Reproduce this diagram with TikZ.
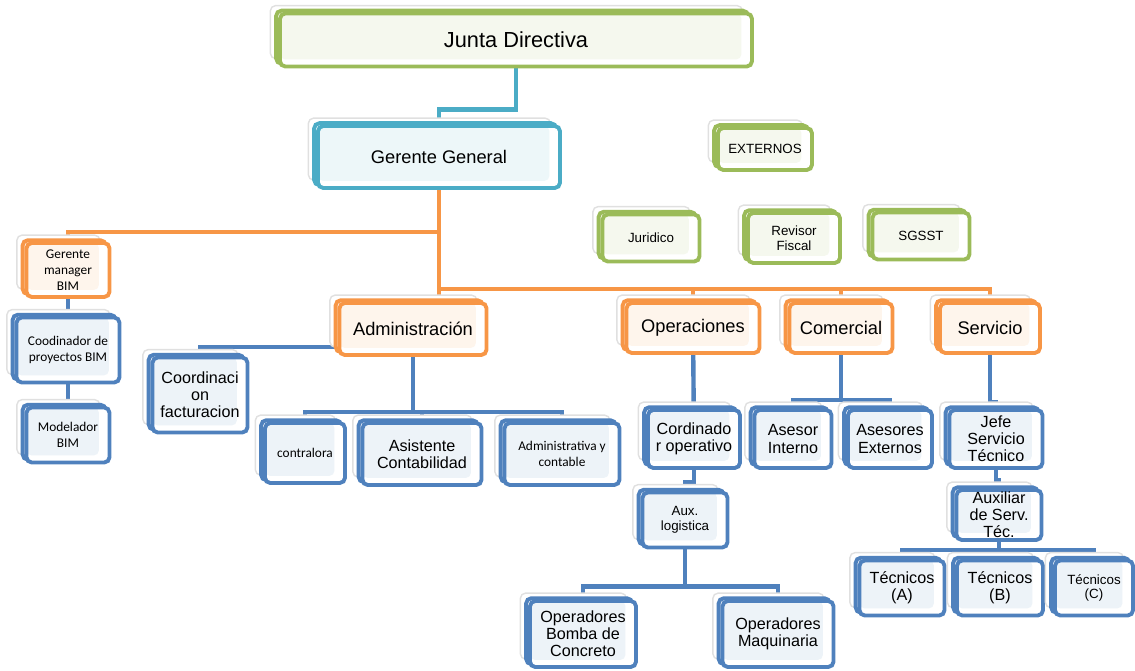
\documentclass[tikz,border=0pt]{standalone}
\usepackage{fontspec}
\setmainfont{Liberation Sans}
\newfontfamily\calibrifont{Carlito}
\usetikzlibrary{backgrounds}
\definecolor{verde}{HTML}{9BBB59}
\definecolor{turq}{HTML}{4BACC6}
\definecolor{naranja}{HTML}{F79646}
\definecolor{azul}{HTML}{4F81BD}
\tikzset{
  caja/.style={draw=#1, fill=white, line width=2.2pt, rounded corners=3pt, align=center, inner sep=1pt,
    preaction={draw=black!12, fill=white, line width=0.8pt, transform canvas={shift={(-5.5pt,4.5pt)}}},
    preaction={draw=#1, line width=2.2pt, transform canvas={shift={(-2.2pt,1.6pt)}}},
    path picture={\fill[#1!10] ([shift={(0pt,4pt)}]path picture bounding box.south west) rectangle ([shift={(-6pt,0pt)}]path picture bounding box.north east);}},
  sz/.style 2 args={minimum width=#1*0.02cm, minimum height=#2*0.02cm},
  linea/.style={draw=#1, line width=2.5pt},
  f1/.style={font=\fontsize{12.4}{14}\selectfont},
  f2/.style={font=\fontsize{10.4}{12}\selectfont},
  f3/.style={font=\fontsize{9.2}{9.8}\selectfont},
  f4/.style={font=\fontsize{7.6}{8.4}\selectfont},
  fc/.style={font=\calibrifont\fontsize{7.6}{9}\selectfont}
}
\begin{document}
\begin{tikzpicture}[x=0.02cm,y=-0.02cm]
\useasboundingbox (0,0) rectangle (1135,671);
\node[caja=verde, sz={472}{53}, f1] (jd) at (516,40) {Junta Directiva};
\node[caja=turq, sz={242}{62}, f2] (gg) at (439,157) {Gerente General};
\node[caja=verde, sz={94}{42}, f4] (ext) at (765,149) {EXTERNOS};
\node[caja=verde, sz={97}{47}, f4] (jur) at (651,238) {Juridico};
\node[caja=verde, sz={92}{50}, f4] (rev) at (794,238) {Revisor\\Fiscal};
\node[caja=verde, sz={97}{47}, f4] (sgs) at (921,236) {SGSST};
\node[caja=naranja, sz={83}{54}, fc] (gmb) at (68,270) {Gerente\\manager\\BIM};
\node[caja=azul, sz={103}{65}, fc] (cpb) at (68,350) {Coodinador de\\proyectos BIM};
\node[caja=azul, sz={83}{55}, fc] (mbim) at (68,435) {Modelador\\BIM};
\node[caja=naranja, sz={147}{52}, f2] (adm) at (413,329) {Administración};
\node[caja=azul, sz={95}{75}, f3] (cfac) at (200,395) {Coordinaci\\on\\facturacion};
\node[caja=azul, sz={80}{60}, fc] (con) at (305,453) {contralora};
\node[caja=azul, sz={119}{62}, f3] (asi) at (422,454) {Asistente\\Contabilidad};
\node[caja=azul, sz={115}{62}, fc] (adc) at (562,454) {Administrativa y\\contable};
\node[caja=naranja, sz={133}{50}, f2] (ope) at (693,328) {Operaciones};
\node[caja=naranja, sz={103}{50}, f2] (com) at (841,328) {Comercial};
\node[caja=naranja, sz={100}{50}, f2] (ser) at (990,328) {Servicio};
\node[caja=azul, sz={92}{58}, f3] (cop) at (694,439) {Cordinado\\r operativo};
\node[caja=azul, sz={77}{58}, f3] (ain) at (793,439) {Asesor\\Interno};
\node[caja=azul, sz={84}{58}, f3] (aex) at (890,439) {Asesores\\Externos};
\node[caja=azul, sz={93}{58}, f3] (jst) at (996,439) {Jefe\\Servicio\\Técnico};
\node[caja=azul, sz={85}{55}, f4] (aux) at (685,520) {Aux.\\logistica};
\node[caja=azul, sz={85}{50}, f3] (ast) at (999,515) {Auxiliar\\de Serv.\\Téc.};
\node[caja=azul, sz={106}{66}, f3] (obc) at (583,634) {Operadores\\Bomba de\\Concreto};
\node[caja=azul, sz={111}{66}, f3] (omq) at (778,634) {Operadores\\Maquinaria};
\node[caja=azul, sz={85}{55}, f3] (ta) at (902,588) {Técnicos\\(A)};
\node[caja=azul, sz={86}{55}, f3] (tb) at (1000,588) {Técnicos\\(B)};
\node[caja=azul, sz={78}{55}, f4] (tc) at (1094,588) {Técnicos\\(C)};
\begin{scope}[on background layer]
\draw[linea=turq] (jd.south) -- ++(0,41) -| (gg.north);
\draw[linea=naranja] (gg.south) -- (gg.south |- adm.north);
\draw[linea=naranja] (gg.south) ++(0,42) -| (gmb.north);
\path (gg.south) ++(0,99) coordinate (obar);
\foreach \n in {ope,com,ser}
    \draw[linea=naranja] (obar) -| (\n.north);
\draw[linea=azul] (gmb) -- (cpb) -- (mbim);
\draw[linea=azul] (adm.south west) ++(0,-10) -| (cfac.north);
\path (adm.south) ++(0,55) coordinate (abar);
\foreach \n in {con,asi,adc}
    \draw[linea=azul] (adm.south) -- (abar) -| (\n.north);
\draw[linea=azul] (ope) -- (cop);
\draw[linea=azul] (cop.south) -- ++(0,12) -| (aux.north);
\path (aux.south) ++(0,37) coordinate (xbar);
\foreach \n in {obc,omq}
    \draw[linea=azul] (aux.south) -- (xbar) -| (\n.north);
\path (com.south) ++(0,45) coordinate (cbar);
\foreach \n in {ain,aex}
    \draw[linea=azul] (com.south) -- (cbar) -| (\n.north);
\draw[linea=azul] (ser.south) -- ++(0,47) -| (jst.north);
\draw[linea=azul] (jst.south) -- ++(0,10) -| (ast.north);
\path (ast.south) ++(0,8) coordinate (tbar);
\foreach \n in {ta,tb,tc}
    \draw[linea=azul] (ast.south) -- (tbar) -| (\n.north);
\end{scope}
\end{tikzpicture}
\end{document}
